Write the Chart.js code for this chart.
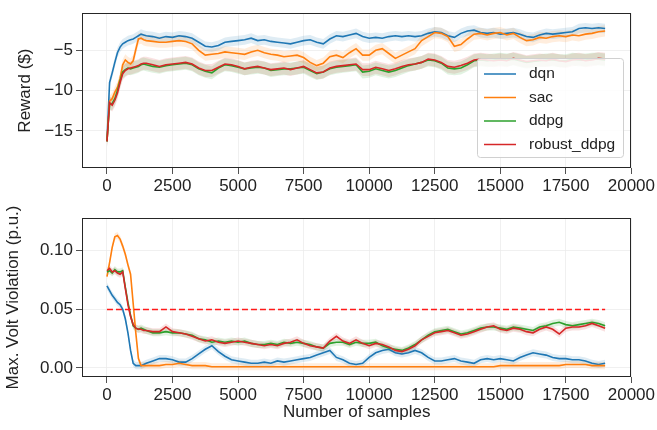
<!DOCTYPE html>
<html>
<head>
<meta charset="utf-8">
<script src="https://cdn.jsdelivr.net/npm/chart.js@4"></script>
<style>
  body { margin: 0; background: #fff; }
  #wrap { position: relative; width: 657px; height: 430px; }
  canvas { position: absolute; left: 0; }
</style>
</head>
<body>
<div id="wrap">
  <canvas id="rewardChart" width="657" height="200" style="top:0"></canvas>
  <canvas id="voltChart" width="657" height="230" style="top:200px"></canvas>
</div>
<script>
// sample index (x axis) - denser at the start where the curves move fast
const samples = [
  0,100,200,300,400,500,600,700,800,900,1000,1100,1200,1300,1400,
  1500,1750,2000,2250,2500,2750,3000,3250,3500,3750,
  4000,4250,4500,4750,5000,5250,5500,5750,6000,6250,
  6500,6750,7000,7250,7500,7750,8000,8250,8500,8750,
  9000,9250,9500,9750,10000,10250,10500,10750,11000,11250,
  11500,11750,12000,12250,12500,12750,13000,13250,13500,13750,
  14000,14250,14500,14750,15000,15250,15500,15750,16000,16250,
  16500,16750,17000,17250,17500,17750,18000,18250,18500,18750,19000
];

const seriesNames = ['dqn', 'sac', 'ddpg', 'robust_ddpg'];
const seriesColors = ['#1f77b4', '#ff7f0e', '#2ca02c', '#d62728'];
const bandColors = ['rgba(31,119,180,0.14)', 'rgba(255,127,14,0.14)', 'rgba(44,160,44,0.14)', 'rgba(214,39,40,0.14)'];

// top panel: reward ($)
const rewardDqn = [
  -16.3,-9.0,-7.8,-6.5,-5.3,-4.6,-4.2,-4.0,-3.8,-3.7,-3.6,-3.4,-3.2,-3.0,-3.1,
  -3.2,-3.3,-3.5,-3.3,-3.4,-3.2,-3.3,-3.5,-4.0,-4.5,
  -4.6,-4.4,-4.0,-3.9,-3.8,-3.7,-3.5,-3.8,-3.7,-3.9,
  -4.0,-4.1,-4.2,-4.0,-3.8,-3.7,-4.0,-4.2,-3.6,-3.2,
  -3.3,-3.1,-2.9,-3.3,-3.5,-3.4,-3.5,-3.3,-3.2,-3.3,
  -3.2,-3.3,-3.2,-2.9,-2.7,-2.8,-3.2,-3.4,-2.9,-2.6,
  -2.5,-2.8,-2.9,-2.8,-3.0,-2.9,-2.8,-3.0,-3.3,-3.4,
  -3.1,-2.9,-3.0,-2.9,-2.8,-2.7,-2.3,-2.2,-2.3,-2.2,-2.3
];
const rewardSac = [
  -16.3,-11.3,-11.0,-10.2,-9.6,-8.5,-6.8,-6.2,-6.5,-6.7,-6.3,-4.9,-3.6,-3.5,-3.7,
  -3.8,-3.9,-4.0,-4.0,-3.9,-3.8,-3.9,-4.2,-5.0,-5.6,
  -5.5,-5.4,-5.2,-5.3,-5.4,-5.5,-5.2,-5.0,-5.3,-5.5,
  -5.6,-5.8,-5.7,-5.6,-5.9,-6.5,-6.9,-6.6,-5.8,-5.6,
  -5.9,-5.3,-4.8,-5.6,-5.6,-5.0,-4.8,-5.4,-6.0,-5.6,
  -5.2,-4.8,-3.8,-3.3,-2.8,-2.9,-3.3,-4.5,-4.3,-3.6,
  -3.0,-2.9,-3.1,-2.9,-2.8,-3.1,-2.9,-3.4,-3.8,-3.7,
  -3.4,-3.5,-3.3,-3.2,-3.3,-3.1,-3.2,-3.0,-2.9,-2.7,-2.6
];
const rewardDdpg = [
  -16.3,-11.7,-11.6,-11.0,-10.0,-8.8,-7.7,-7.4,-7.2,-7.3,-7.2,-7.1,-7.0,-6.8,-6.7,
  -6.8,-7.0,-7.1,-6.9,-6.8,-6.7,-6.6,-6.8,-7.3,-7.6,
  -7.8,-7.2,-6.8,-6.9,-7.1,-7.3,-7.2,-7.1,-7.2,-7.5,
  -7.4,-7.3,-7.3,-7.2,-7.1,-7.5,-7.9,-7.7,-7.3,-7.1,
  -7.0,-6.9,-6.8,-7.7,-7.6,-7.3,-7.5,-7.7,-7.5,-7.2,
  -6.9,-6.7,-6.5,-6.2,-6.3,-6.6,-7.2,-7.3,-7.2,-6.8,
  -6.3,-6.2,-6.3,-6.2,-6.1,-6.2,-6.1,-6.3,-6.5,-6.4,
  -6.3,-6.2,-6.2,-6.3,-6.3,-6.1,-6.2,-6.2,-6.1,-6.1,-6.2
];
const rewardRobust = [
  -16.3,-11.5,-11.8,-11.2,-10.3,-9.0,-7.9,-7.5,-7.3,-7.2,-7.1,-7.0,-6.9,-6.7,-6.6,
  -6.6,-6.8,-7.0,-6.8,-6.7,-6.6,-6.5,-6.7,-7.2,-7.5,
  -7.5,-7.1,-6.7,-6.8,-7.0,-7.3,-7.1,-7.0,-7.2,-7.4,
  -7.3,-7.2,-7.4,-7.2,-7.0,-7.4,-7.8,-7.7,-7.2,-7.0,
  -6.9,-6.8,-6.7,-7.4,-7.4,-7.1,-7.3,-7.5,-7.3,-7.0,
  -6.8,-6.7,-6.5,-6.1,-6.2,-6.5,-7.0,-7.1,-6.9,-6.6,
  -6.2,-6.1,-6.2,-6.3,-6.2,-6.3,-6.0,-6.2,-6.4,-6.3,
  -6.2,-6.3,-6.1,-6.3,-6.4,-6.2,-6.1,-6.3,-6.2,-6.0,-6.1
];
const rewardSpread = [0.6, 0.7, 0.8, 0.8];

// bottom panel: max. volt violation (p.u.)
const voltDqn = [
  0.070,0.066,0.062,0.059,0.056,0.054,0.050,0.042,0.030,0.015,0.004,0.002,0.002,0.002,0.003,
  0.004,0.006,0.008,0.008,0.007,0.005,0.005,0.008,0.012,0.016,
  0.019,0.014,0.010,0.007,0.006,0.005,0.004,0.004,0.005,0.004,
  0.006,0.005,0.006,0.007,0.008,0.009,0.011,0.013,0.015,0.009,
  0.007,0.004,0.003,0.004,0.009,0.013,0.015,0.016,0.013,0.012,
  0.013,0.015,0.013,0.009,0.006,0.006,0.007,0.008,0.006,0.005,
  0.004,0.007,0.008,0.007,0.008,0.007,0.006,0.009,0.011,0.013,
  0.012,0.011,0.009,0.008,0.008,0.007,0.007,0.006,0.004,0.003,0.004
];
const voltSac = [
  0.078,0.090,0.103,0.112,0.113,0.110,0.104,0.097,0.088,0.080,0.055,0.030,0.008,0.002,0.002,
  0.002,0.002,0.002,0.003,0.003,0.004,0.003,0.002,0.002,0.002,
  0.001,0.001,0.001,0.001,0.001,0.001,0.001,0.001,0.001,0.001,
  0.001,0.001,0.001,0.001,0.001,0.001,0.001,0.001,0.001,0.001,
  0.001,0.001,0.001,0.001,0.001,0.001,0.001,0.001,0.001,0.001,
  0.001,0.001,0.001,0.001,0.001,0.001,0.001,0.001,0.001,0.001,
  0.001,0.001,0.001,0.001,0.002,0.002,0.002,0.002,0.002,0.002,
  0.002,0.002,0.002,0.002,0.003,0.003,0.003,0.003,0.002,0.002,0.002
];
const voltDdpg = [
  0.082,0.083,0.081,0.084,0.082,0.082,0.083,0.069,0.056,0.045,0.036,0.034,0.033,0.034,0.033,
  0.032,0.030,0.030,0.031,0.030,0.030,0.029,0.028,0.025,0.024,
  0.022,0.023,0.022,0.023,0.022,0.023,0.021,0.020,0.020,0.021,
  0.020,0.022,0.021,0.022,0.021,0.020,0.018,0.017,0.021,0.022,
  0.022,0.020,0.022,0.021,0.021,0.022,0.019,0.017,0.016,0.015,
  0.017,0.020,0.024,0.028,0.031,0.032,0.033,0.031,0.029,0.030,
  0.032,0.034,0.035,0.035,0.034,0.033,0.035,0.034,0.033,0.032,
  0.035,0.036,0.038,0.039,0.037,0.036,0.037,0.038,0.039,0.038,0.036
];
const voltRobust = [
  0.083,0.085,0.082,0.083,0.081,0.080,0.082,0.068,0.054,0.044,0.037,0.034,0.033,0.033,0.032,
  0.032,0.031,0.031,0.035,0.031,0.030,0.029,0.027,0.025,0.023,
  0.024,0.022,0.021,0.022,0.023,0.022,0.021,0.020,0.019,0.020,
  0.019,0.021,0.022,0.024,0.021,0.019,0.018,0.017,0.023,0.027,
  0.023,0.021,0.024,0.021,0.019,0.021,0.020,0.018,0.015,0.014,
  0.016,0.019,0.024,0.027,0.030,0.031,0.032,0.030,0.028,0.029,
  0.031,0.033,0.035,0.036,0.033,0.032,0.034,0.033,0.031,0.030,
  0.033,0.035,0.033,0.029,0.034,0.035,0.035,0.036,0.038,0.036,0.034
];
const voltSpread = [0.003, 0.003, 0.003, 0.003];

// dashed limit line
const limitSamples = [0, 19000];
const limitValue = 0.05;

const xTicks = [0, 2500, 5000, 7500, 10000, 12500, 15000, 17500, 20000];
const rewardTicks = [-15, -10, -5];
const voltTicks = [0, 0.05, 0.10];

const FONT = "'Liberation Sans', Arial, Helvetica, sans-serif";
const TEXT = '#222222';

function toPoints(values, shift) {
  return values.map((v, i) => ({ x: samples[i], y: v + shift }));
}

// one band (upper fills to lower) + one line for each series
function buildDatasets(seriesValues, spreads) {
  let sets = [];
  seriesValues.forEach((vals, i) => {
    sets.push({ label: seriesNames[i] + ' upper', data: toPoints(vals, spreads[i]),
      borderWidth: 0, pointRadius: 0, fill: '+1', backgroundColor: bandColors[i], order: 20 });
    sets.push({ label: seriesNames[i] + ' lower', data: toPoints(vals, -spreads[i]),
      borderWidth: 0, pointRadius: 0, fill: false, order: 20 });
  });
  seriesValues.forEach((vals, i) => {
    sets.push({ label: seriesNames[i], data: toPoints(vals, 0), borderColor: seriesColors[i],
      borderWidth: 1.6, pointRadius: 0, fill: false, tension: 0, order: 10 - i });
  });
  return sets;
}

// matplotlib-like box around the plot area
const framePlugin = {
  id: 'frame',
  afterDatasetsDraw(chart) {
    const a = chart.chartArea, ctx = chart.ctx;
    ctx.save();
    ctx.strokeStyle = '#262626';
    ctx.lineWidth = 1;
    ctx.strokeRect(Math.round(a.left) + 0.5, Math.round(a.top) + 0.5,
      Math.round(a.right - a.left) - 1, Math.round(a.bottom - a.top) - 1);
    ctx.restore();
  }
};

// legend drawn inside the top plot, lower right
const insideLegend = {
  id: 'insideLegend',
  afterDraw(chart) {
    const ctx = chart.ctx;
    ctx.save();
    ctx.fillStyle = 'rgba(255,255,255,0.85)';
    ctx.strokeStyle = '#d0d0d0';
    ctx.lineWidth = 1;
    ctx.beginPath();
    ctx.roundRect(477.5, 58.5, 146, 99, 3);
    ctx.fill();
    ctx.stroke();
    ctx.font = '15.5px ' + FONT;
    ctx.textBaseline = 'middle';
    seriesNames.forEach((name, i) => {
      const y = 74 + i * 23.5;
      ctx.strokeStyle = seriesColors[i];
      ctx.lineWidth = 1.5;
      ctx.beginPath();
      ctx.moveTo(484, y);
      ctx.lineTo(516, y);
      ctx.stroke();
      ctx.fillStyle = TEXT;
      ctx.fillText(name, 529, y);
    });
    ctx.restore();
  }
};

function xAxis(height, withTitle) {
  return {
    type: 'linear', min: -952, max: 20000,
    afterBuildTicks: (s) => { s.ticks = xTicks.map(v => ({ value: v })); },
    afterFit: (s) => { s.height = height; },
    grid: { color: '#ececec', lineWidth: 0.8, tickColor: '#262626', tickLength: 6 },
    border: { display: false },
    ticks: { color: TEXT, font: { family: FONT, size: 17 }, padding: 2, maxRotation: 0,
      callback: (v) => String(v) },
    title: { display: withTitle, text: 'Number of samples', color: TEXT,
      font: { family: FONT, size: 17 }, padding: { top: 0, bottom: 7 } }
  };
}

function yAxis(min, max, tickVals, fmt, title, titlePad) {
  return {
    type: 'linear', min: min, max: max,
    afterBuildTicks: (s) => { s.ticks = tickVals.map(v => ({ value: v })); },
    afterFit: (s) => { s.width = 82; },
    grid: { color: '#ececec', lineWidth: 0.8, tickColor: '#262626', tickLength: 6 },
    border: { display: false },
    ticks: { color: TEXT, font: { family: FONT, size: 17 }, padding: 3, callback: fmt },
    title: { display: true, text: title, color: TEXT, font: { family: FONT, size: 17 },
      padding: { top: titlePad, bottom: 0 } }
  };
}

const commonOptions = {
  responsive: false,
  animation: false,
  plugins: { legend: { display: false }, tooltip: { enabled: false } }
};

new Chart(document.getElementById('rewardChart').getContext('2d'), {
  type: 'line',
  data: { datasets: buildDatasets([rewardDqn, rewardSac, rewardDdpg, rewardRobust], rewardSpread) },
  options: Object.assign({}, commonOptions, {
    layout: { padding: { left: 0, right: 25, top: 9, bottom: 0 } },
    scales: {
      x: xAxis(32, false),
      y: yAxis(-19.6, -0.4, rewardTicks, (v) => (v < 0 ? '\u2212' + Math.abs(v) : String(v)), 'Reward ($)', 15)
    }
  }),
  plugins: [framePlugin, insideLegend]
});

let voltSets = buildDatasets([voltDqn, voltSac, voltDdpg, voltRobust], voltSpread);
voltSets.push({ label: 'limit', data: limitSamples.map(s => ({ x: s, y: limitValue })),
  borderColor: '#ff1a1a', backgroundColor: '#ff1a1a', borderWidth: 1.5, borderDash: [6, 3],
  pointRadius: 0, fill: false, order: 0 });

new Chart(document.getElementById('voltChart').getContext('2d'), {
  type: 'line',
  data: { datasets: voltSets },
  options: Object.assign({}, commonOptions, {
    layout: { padding: { left: 0, right: 25, top: 18, bottom: 0 } },
    scales: {
      x: xAxis(53, true),
      y: yAxis(-0.0077, 0.128, voltTicks, (v) => v.toFixed(2), 'Max. Volt Violation (p.u.)', 3)
    }
  }),
  plugins: [framePlugin]
});
</script>
</body>
</html>
